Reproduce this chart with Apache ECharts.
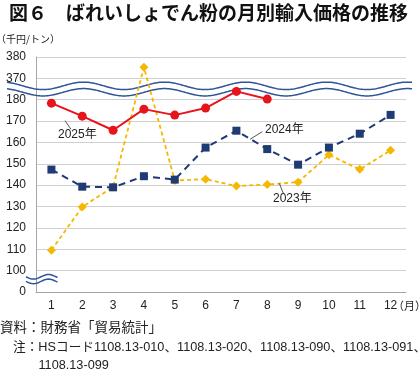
<!DOCTYPE html>
<html><head><meta charset="utf-8">
<script src="https://cdn.jsdelivr.net/npm/echarts@6/dist/echarts.min.js"></script>
<style>html,body{margin:0;padding:0;background:#fff}#c{width:420px;height:372px}</style>
</head><body><div id="c"></div>
<script>
const months = ['1','2','3','4','5','6','7','8','9','10','11','12'];
const tickLabels = ['0','100','110','120','130','140','150','160','170','180','370','380'];
const y2023 = [109.6,129.8,139.2,375.2,142.2,142.8,139.6,140.3,141.4,154.2,147.4,156.3];
const y2024 = [147.3,139.3,139.0,144.2,142.6,157.6,165.5,156.9,149.6,157.6,164.1,172.9];
const y2025 = [178.4,172.3,165.7,175.6,172.8,176.1,183.9,180.3,null,null,null,null];

// broken axis: 0 | 100..180 | 370..380, each tick one unit apart
const toAxis = v => v == null ? null : (v >= 370 ? 10 + (v - 370) / 10 : 1 + (v - 100) / 10);
const FONT = '"Liberation Sans", "Noto Sans CJK JP", sans-serif';
const JP = '"Noto Sans CJK JP", sans-serif';

const chart = echarts.init(document.getElementById('c'), null, {renderer: 'canvas'});
chart.setOption({
  animation: false,
  grid: {left: 36, right: 14, top: 57, bottom: 80},
  xAxis: {
    type: 'category', data: months, boundaryGap: true,
    axisLine: {lineStyle: {color: '#a6a6a6'}},
    axisTick: {show: false},
    axisLabel: {color: '#222', fontSize: 12, fontFamily: FONT, margin: 8}
  },
  yAxis: {
    type: 'value', min: 0, max: 11, interval: 1,
    axisLine: {show: true, lineStyle: {color: '#a6a6a6'}},
    axisTick: {show: false},
    splitLine: {lineStyle: {color: '#d0d0d0'}},
    axisLabel: {formatter: v => tickLabels[Math.round(v)], color: '#222', fontSize: 12, fontFamily: FONT, margin: 10}
  },
  series: [
    {name: '2023年', type: 'line', data: y2023.map(toAxis), symbol: 'diamond', symbolSize: 9,
     itemStyle: {color: '#f5b800'}, lineStyle: {color: '#f5b800', width: 1.8, type: [4, 3]}, z: 2},
    {name: '2024年', type: 'line', data: y2024.map(toAxis), symbol: 'rect', symbolSize: 8,
     itemStyle: {color: '#1f3b73'}, lineStyle: {color: '#1f3b73', width: 2, type: [7, 5]}, z: 3},
    {name: '2025年', type: 'line', data: y2025.map(toAxis), symbol: 'circle', symbolSize: 9,
     itemStyle: {color: '#e8141b'}, lineStyle: {color: '#e8141b', width: 2}, z: 4}
  ]
});

const mid = chart.convertToPixel({yAxisIndex: 0}, 9.5);
function wave(x0, x1, cy, amp, period, phaseX, fn) {
  const pts = [];
  for (let x = x0; x <= x1 + 0.01; x += 1.5) pts.push([x, cy + amp * fn(2 * Math.PI * (x - phaseX) / period)]);
  return pts;
}
const waveColor = '#2f5597';
const g = [];
g.push({type: 'polyline', z: 1, shape: {points: wave(7, 412, mid - 3.2, 3.7, 81, 43, Math.cos)}, style: {stroke: waveColor, lineWidth: 1.5, fill: null}});
g.push({type: 'polyline', z: 1, shape: {points: wave(7, 412, mid + 3.2, 3.7, 81, 43, Math.cos)}, style: {stroke: waveColor, lineWidth: 1.5, fill: null}});
g.push({type: 'polyline', z: 1, shape: {points: wave(26, 58, 276.8, 2.3, 30, 26, Math.sin)}, style: {stroke: waveColor, lineWidth: 1.5, fill: null}});
g.push({type: 'polyline', z: 1, shape: {points: wave(26, 58, 281.4, 2.3, 30, 26, Math.sin)}, style: {stroke: waveColor, lineWidth: 1.5, fill: null}});

function txt(text, x, y, size, opts) {
  return Object.assign({type: 'text', z: 10, style: Object.assign({text, x, y, font: size + 'px ' + FONT, fill: '#222', verticalAlign: 'middle', align: 'left'}, opts || {})});
}
g.push(txt('図６　ばれいしょでん粉の月別輸入価格の推移', 9, 13, 19, {font: 'bold 19px ' + JP, fill: '#111'}));
g.push(txt('（千円/トン）', -4, 39, 10, {font: '10px ' + JP}));
g.push(txt('（月）', 393, 306, 11, {font: '11px ' + JP}));
g.push(txt('2025年', 58, 135, 12));
g.push(txt('2024年', 265, 130, 12));
g.push(txt('2023年', 273, 199, 12));
const lead = (x1, y1, x2, y2) => ({type: 'line', z: 10, shape: {x1, y1, x2, y2}, style: {stroke: '#555', lineWidth: 1}});
g.push(lead(65, 120.7, 71, 129.3));
g.push(lead(250, 139.3, 262.3, 131.7));
g.push(lead(279.3, 183.3, 283.3, 193.3));
g.push(txt('資料：財務省「貿易統計」', 0, 327, 13.5, {font: '13.5px ' + JP}));
g.push(txt('注：HSコード1108.13-010、1108.13-020、1108.13-090、1108.13-091、', 13, 347, 12.7));
g.push(txt('1108.13-099', 38.5, 365, 12.7));
chart.setOption({graphic: {elements: g}});
</script></body></html>
